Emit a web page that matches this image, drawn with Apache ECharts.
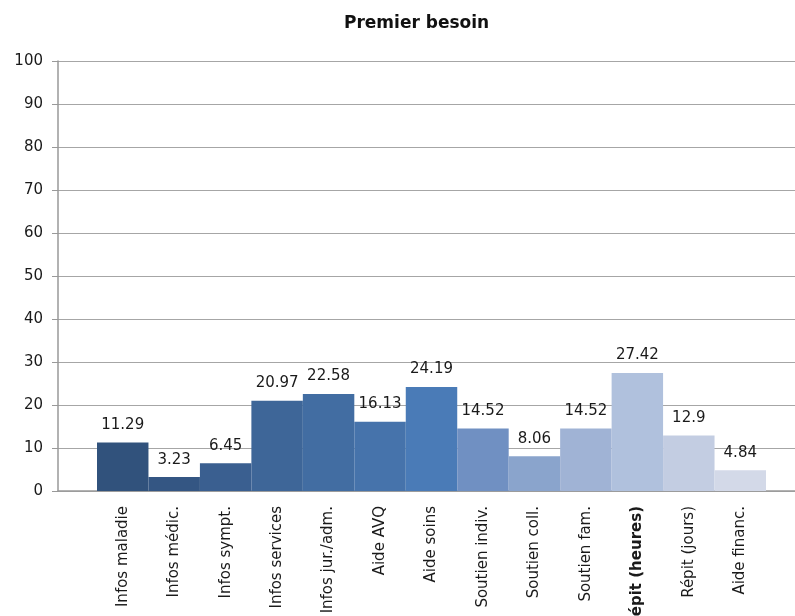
<!DOCTYPE html>
<html>
<head>
<meta charset="utf-8">
<script src="https://cdn.jsdelivr.net/npm/echarts@6/dist/echarts.min.js"></script>
<style>
  html, body { margin: 0; padding: 0; background: #fff; }
  #chart { width: 795px; height: 616px; }
</style>
</head>
<body>
<div id="chart"></div>
<script>
// données du graphique
const categories = [
  'Infos maladie', 'Infos médic.', 'Infos sympt.', 'Infos services', 'Infos jur./adm.',
  'Aide AVQ', 'Aide soins', 'Soutien indiv.', 'Soutien coll.', 'Soutien fam.',
  'Répit (heures)', 'Répit (jours)', 'Aide financ.'
]
const values = [11.29, 3.23, 6.45, 20.97, 22.58, 16.13, 24.19, 14.52, 8.06, 14.52, 27.42, 12.9, 4.84]
const barColors = [
  '#31527c', '#345683', '#3a5f90', '#3e6698', '#426da2', '#4673ab', '#4a7bb7',
  '#7090c2', '#8aa4cc', '#a0b3d5', '#b0c1dd', '#c3cde2', '#d3d9e8'
]
const boldLabel = 'Répit (heures)'

const font = 'DejaVu Sans'
const chart = echarts.init(document.getElementById('chart'))

const option = {
  animation: false,
  textStyle: { fontFamily: font },
  title: {
    text: 'Premier besoin',
    left: 339,
    top: 10,
    textStyle: { fontFamily: font, fontSize: 17, fontWeight: 'bold', color: '#111' }
  },
  grid: [
    { left: 58, right: 0, top: 61, bottom: 125, outerBoundsMode: 'none' },
    { left: 97, right: 29, top: 61, bottom: 125, outerBoundsMode: 'none' }
  ],
  xAxis: [
    {
      gridIndex: 0,
      type: 'category',
      data: [''],
      axisLine: { show: true, lineStyle: { color: '#999', width: 1.5 } },
      axisTick: { show: false },
      axisLabel: { show: false }
    },
    {
      gridIndex: 1,
      type: 'category',
      data: categories,
      axisLine: { show: false },
      axisTick: { show: false },
      axisLabel: {
        interval: 0,
        rotate: 90,
        margin: 15,
        fontFamily: font,
        fontSize: 15,
        color: '#1a1a1a',
        formatter: (v) => v === boldLabel ? '{b|' + v + '}' : v,
        rich: { b: { fontFamily: font, fontSize: 15, fontWeight: 'bold', color: '#1a1a1a' } }
      }
    }
  ],
  yAxis: [
    {
      gridIndex: 0,
      type: 'value',
      min: 0,
      max: 100,
      interval: 10,
      axisLine: { show: true, lineStyle: { color: '#999', width: 1.5 } },
      axisTick: { show: true, length: 6, lineStyle: { color: '#999' } },
      axisLabel: { margin: 15, fontFamily: font, fontSize: 15, color: '#1a1a1a' },
      splitLine: { lineStyle: { color: '#a6a6a6', width: 1.2 } }
    },
    {
      gridIndex: 1,
      type: 'value',
      min: 0,
      max: 100,
      show: false
    }
  ],
  series: [{
    type: 'bar',
    xAxisIndex: 1,
    yAxisIndex: 1,
    barCategoryGap: 0,
    data: values.map((v, i) => ({ value: v, itemStyle: { color: barColors[i] } })),
    label: {
      show: true,
      position: 'top',
      distance: 10,
      fontFamily: font,
      fontSize: 15,
      color: '#1a1a1a'
    }
  }]
}

chart.setOption(option)
window.addEventListener('resize', () => chart.resize())
</script>
</body>
</html>
